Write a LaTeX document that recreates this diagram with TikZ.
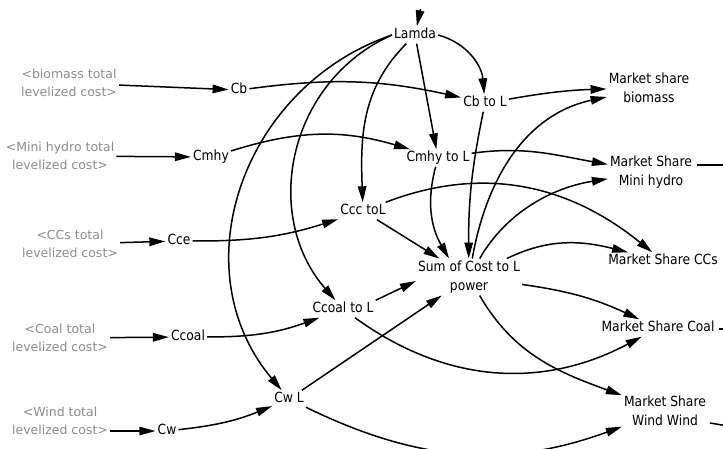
\documentclass[tikz,border=0pt]{standalone}
\usepackage{fontspec}
\usetikzlibrary{arrows.meta}
\newfontfamily\lblfamily{DejaVu Sans}[FakeStretch=0.88]
\newfontfamily\srcfamily{DejaVu Sans}
\begin{document}
\begin{tikzpicture}[x=1pt,y=1pt,
  arr/.style={line width=1.5pt,-{Triangle[length=16pt,width=8.5pt]}},
  stub/.style={line width=1.5pt},
  lbl/.style={font=\lblfamily\fontsize{14}{19}\selectfont,inner sep=2pt,text height=10pt,text depth=3pt},
  lbltwo/.style={font=\lblfamily\fontsize{14}{19}\selectfont,inner sep=2pt,align=center},
  src/.style={font=\srcfamily\fontsize{12.5}{17.5}\selectfont,text=black!45,inner sep=2pt,align=center}]
\useasboundingbox (0,0) rectangle (723,-448);
% nodes
\node[lbl] (Lamda) at (415,-35) {Lamda};
\node[lbl] (CbL) at (485,-103) {Cb to L};
\node[lbl] (CmhyL) at (438,-158) {Cmhy to L};
\node[lbl] (CccL) at (363,-211) {Ccc toL};
\node[lbltwo] (Sum) at (469,-277) {Sum of Cost to L\\power};
\node[lbl] (CcoalL) at (343,-309) {Ccoal to L};
\node[lbl] (CwL) at (289,-399) {Cw L};
\node[src] (bio) at (69,-83) {<biomass total\\levelized cost>};
\node[src] (mh) at (60,-156) {<Mini hydro total\\levelized cost>};
\node[src] (ccs) at (70,-244) {<CCs total\\levelized cost>};
\node[src] (coal) at (60,-338) {<Coal total\\levelized cost>};
\node[src] (wind) at (60,-421) {<Wind total\\levelized cost>};
\node[lbl] (Cb) at (239,-90) {Cb};
\node[lbl] (Cmhy) at (211,-157) {Cmhy};
\node[lbl] (Cce) at (179,-241) {Cce};
\node[lbl] (Ccoal) at (188,-337) {Ccoal};
\node[lbl] (Cw) at (167,-431) {Cw};
\node[lbltwo] (msb) at (649,-88) {Market share\\biomass};
\node[lbltwo] (msmh) at (651,-172) {Market Share\\Mini hydro};
\node[lbl] (mscc) at (663,-261) {Market Share CCs};
\node[lbl] (mscoal) at (658,-328) {Market Share Coal};
\node[lbltwo] (msw) at (665,-411) {Market Share\\Wind Wind};
\coordinate (top) at (420.5,-9);
\coordinate (s1a) at (697,-165);
\coordinate (s1b) at (740,-165);
\coordinate (s2a) at (719,-329);
\coordinate (s2b) at (740,-329);
\coordinate (s3a) at (710,-423);
\coordinate (s3b) at (740,-428);
% inputs
\draw[arr] (top) -- (Lamda);
\draw[arr] (bio) -- (Cb);
\draw[arr] (mh) -- (Cmhy);
\draw[arr] (ccs) -- (Cce);
\draw[arr] (coal) -- (Ccoal);
\draw[arr] (wind.east |- Cw) -- (Cw);
% C -> C to L
\draw[arr] (Cb) to[bend left=10] (CbL);
\draw[arr] (Cmhy) to[bend left=17] (CmhyL);
\draw[arr] (Cce) to[bend right=9] (CccL);
\draw[arr] (Ccoal) to[bend right=10] (CcoalL);
\draw[arr] (Cw) to[bend right=8] (CwL);
% Lamda
\draw[arr] (Lamda.east) to[out=-15,in=95] (CbL);
\draw[arr] (Lamda) -- (CmhyL);
\draw[arr] (Lamda) to[out=225,in=92] (CccL);
\draw[arr] (Lamda.west) to[out=204,in=131,looseness=1.07] (CcoalL);
\draw[arr] (Lamda.west) to[out=199,in=130,looseness=1.09] (CwL);
% to Sum
\draw[arr] (CccL) -- (Sum);
\draw[arr] (CmhyL) to[out=255,in=120] ([xshift=-20pt]Sum.north);
\draw[arr] (CbL) to[bend right=6] (Sum);
\draw[arr] (CcoalL.north east) -- ([yshift=-4pt]Sum.west);
\draw[arr] (CwL) -- (Sum);
% Sum -> market shares
\draw[arr] (Sum) to[out=80,in=192] (msb);
\draw[arr] (Sum) to[out=60,in=189,looseness=0.93] (msmh);
\draw[arr] (Sum) to[out=26,in=166] (mscc);
\draw[arr] (Sum) to[out=-8,in=155] (mscoal);
\draw[arr] (Sum) to[out=-60,in=160] (msw);
% C to L -> market shares
\draw[arr] (CbL) to[bend left=4] (msb);
\draw[arr] (CmhyL) to[out=8,in=170] (msmh);
\draw[arr] (CccL) to[out=21,in=141] (mscc);
\draw[arr] (CcoalL) to[out=-36,in=208] (mscoal);
\draw[arr] (CwL) to[out=-26,in=200] (msw);
% outgoing stubs
\draw[stub] (s1a) -- (s1b);
\draw[stub] (s2a) -- (s2b);
\draw[stub] (s3a) -- (s3b);
\end{tikzpicture}
\end{document}
